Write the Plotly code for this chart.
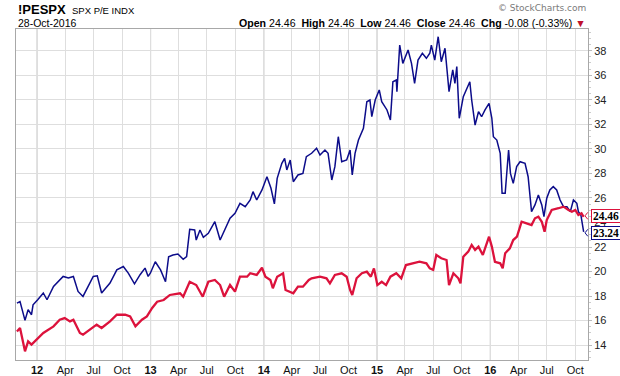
import plotly.graph_objects as go

# ---------------- data ----------------
pe_dates = [
    "2011-10-28", "2011-11-07", "2011-11-23", "2011-12-03", "2011-12-14", "2011-12-19",
    "2012-01-03", "2012-01-21", "2012-02-02", "2012-02-23", "2012-03-25", "2012-04-11",
    "2012-04-27", "2012-05-12", "2012-05-28", "2012-06-20", "2012-06-30", "2012-07-13",
    "2012-07-27", "2012-08-23", "2012-09-14", "2012-10-05", "2012-10-21", "2012-11-10",
    "2012-11-28", "2012-12-14", "2012-12-24", "2012-12-31", "2013-01-16", "2013-02-02",
    "2013-02-18", "2013-02-28", "2013-03-14", "2013-03-30", "2013-04-16", "2013-04-27",
    "2013-05-07", "2013-05-23", "2013-05-28", "2013-06-09", "2013-06-20", "2013-07-06",
    "2013-07-27", "2013-08-13", "2013-08-29", "2013-09-14", "2013-09-30", "2013-10-16",
    "2013-11-02", "2013-11-18", "2013-11-27", "2013-12-09", "2013-12-26", "2014-01-11",
    "2014-01-24", "2014-02-04", "2014-02-13", "2014-02-28", "2014-03-09", "2014-03-16",
    "2014-03-27", "2014-04-06", "2014-04-21", "2014-05-07", "2014-05-18", "2014-06-04",
    "2014-06-20", "2014-07-01", "2014-07-17", "2014-07-27", "2014-08-08", "2014-08-18",
    "2014-08-29", "2014-09-09", "2014-09-25", "2014-10-06", "2014-10-13", "2014-10-22",
    "2014-11-02", "2014-11-18", "2014-11-29", "2014-12-09", "2014-12-15", "2014-12-26",
    "2015-01-08", "2015-01-16", "2015-02-02", "2015-02-13", "2015-02-21", "2015-03-04",
    "2015-03-06", "2015-03-15", "2015-03-25", "2015-04-11", "2015-04-22", "2015-05-02",
    "2015-05-13", "2015-05-27", "2015-06-09", "2015-06-20", "2015-06-25", "2015-07-06",
    "2015-07-17", "2015-07-27", "2015-08-08", "2015-08-13", "2015-08-21", "2015-09-02",
    "2015-09-09", "2015-09-15", "2015-09-23", "2015-10-06", "2015-10-16", "2015-10-27",
    "2015-11-02", "2015-11-13", "2015-11-24", "2015-12-04", "2015-12-15", "2015-12-28",
    "2016-01-06", "2016-01-11", "2016-01-22", "2016-02-02", "2016-02-08", "2016-02-18",
    "2016-02-29", "2016-03-06", "2016-03-15", "2016-03-26", "2016-04-06", "2016-04-22",
    "2016-05-02", "2016-05-13", "2016-05-24", "2016-06-04", "2016-06-15", "2016-06-22",
    "2016-07-01", "2016-07-11", "2016-07-22", "2016-08-02", "2016-08-13", "2016-08-24",
    "2016-09-04", "2016-09-15", "2016-09-25", "2016-10-06", "2016-10-11", "2016-10-19",
    "2016-10-28",
]
pe_values = [
    17.43, 17.56, 16.02, 16.89, 16.48, 17.29,
    17.70, 18.25, 17.70, 18.78, 19.60, 19.47,
    19.60, 18.38, 17.97, 19.20, 19.60, 19.65,
    18.25, 19.06, 20.14, 20.41, 19.87, 19.00,
    19.74, 20.28, 19.60, 19.86, 20.80, 20.13,
    19.17, 21.21, 21.35, 21.43, 21.00, 21.21,
    23.44, 23.39, 22.57, 23.39, 22.79, 23.12,
    24.06, 22.57, 23.39, 24.34, 24.75, 25.56,
    25.29, 25.83, 26.51, 25.83, 26.65, 27.73,
    26.79, 25.51, 27.60, 28.82, 29.23, 28.28,
    29.09, 27.32, 27.87, 28.00, 29.36, 29.64,
    30.05, 29.50, 29.91, 29.64, 27.46, 28.55,
    30.99, 28.95, 29.09, 29.91, 27.87, 29.64,
    30.72, 31.68, 33.84, 33.98, 32.62, 33.98,
    34.80, 33.84, 33.17, 32.35, 35.47, 35.61,
    34.66, 38.46, 36.97, 38.06, 36.97, 35.34,
    37.24, 37.79, 37.38, 37.79, 38.46, 37.24,
    39.14, 37.10, 38.20, 36.70, 34.66, 36.43,
    35.34, 36.70, 32.49, 34.25, 34.80, 35.47,
    33.98, 31.94, 33.03, 32.62, 33.17, 33.71,
    32.49, 30.99, 30.72, 29.64, 26.38, 26.38,
    29.91, 28.00, 27.19, 28.55, 28.95, 28.82,
    27.73, 24.88, 25.43, 26.24, 25.43, 24.47,
    25.97, 26.65, 26.92, 26.65, 25.83, 25.29,
    25.29, 24.88, 25.83, 25.56, 24.88, 24.61,
    23.24,
]

fwd_dates = [
    "2011-10-28", "2011-11-07", "2011-11-23", "2011-12-03", "2011-12-14", "2012-01-03",
    "2012-01-21", "2012-02-23", "2012-03-14", "2012-03-30", "2012-04-16", "2012-04-27",
    "2012-05-18", "2012-05-28", "2012-06-20", "2012-07-11", "2012-07-27", "2012-08-23",
    "2012-09-14", "2012-10-11", "2012-10-27", "2012-11-13", "2012-12-04", "2012-12-20",
    "2013-01-06", "2013-01-22", "2013-02-12", "2013-03-04", "2013-04-06", "2013-04-16",
    "2013-05-07", "2013-05-28", "2013-06-18", "2013-07-06", "2013-07-27", "2013-08-13",
    "2013-08-26", "2013-09-14", "2013-09-30", "2013-10-16", "2013-11-08", "2013-11-18",
    "2013-12-09", "2013-12-26", "2014-01-06", "2014-01-22", "2014-01-30", "2014-02-13",
    "2014-03-04", "2014-03-12", "2014-04-06", "2014-04-21", "2014-05-07", "2014-05-26",
    "2014-06-04", "2014-07-01", "2014-07-22", "2014-08-02", "2014-08-18", "2014-09-09",
    "2014-09-25", "2014-10-06", "2014-10-13", "2014-10-27", "2014-11-13", "2014-11-29",
    "2014-12-12", "2014-12-22", "2015-01-02", "2015-01-16", "2015-01-30", "2015-02-13",
    "2015-03-04", "2015-03-20", "2015-04-04", "2015-04-27", "2015-05-18", "2015-06-09",
    "2015-06-20", "2015-07-01", "2015-07-11", "2015-07-27", "2015-08-13", "2015-08-21",
    "2015-09-04", "2015-09-20", "2015-09-27", "2015-10-06", "2015-10-22", "2015-11-02",
    "2015-11-13", "2015-11-24", "2015-12-08", "2015-12-28", "2016-01-06", "2016-01-16",
    "2016-02-02", "2016-02-10", "2016-02-18", "2016-03-04", "2016-03-15", "2016-03-27",
    "2016-04-11", "2016-04-27", "2016-05-13", "2016-05-24", "2016-06-04", "2016-06-15",
    "2016-06-24", "2016-07-01", "2016-07-17", "2016-08-08", "2016-08-24", "2016-09-09",
    "2016-09-20", "2016-10-01", "2016-10-11", "2016-10-21", "2016-10-28",
]
fwd_values = [
    15.12, 15.40, 13.50, 14.31, 14.04, 14.58,
    14.99, 15.53, 16.07, 16.21, 15.94, 16.07,
    14.99, 14.85, 15.26, 15.67, 15.40, 15.94,
    16.48, 16.48, 16.34, 15.53, 16.07, 16.34,
    17.03, 17.54, 17.68, 18.09, 18.23, 17.95,
    19.17, 18.90, 17.95, 19.17, 19.31, 18.90,
    17.95, 18.90, 18.36, 19.58, 19.58, 19.86,
    19.72, 20.31, 19.58, 19.31, 18.64, 19.58,
    19.86, 18.50, 18.23, 18.77, 18.77, 19.31,
    19.45, 19.58, 19.45, 19.04, 19.72, 19.86,
    19.58, 18.50, 18.09, 19.45, 19.86, 19.99,
    19.58, 20.26, 18.90, 19.17, 18.90, 19.58,
    19.86, 19.45, 20.53, 20.67, 20.80, 20.67,
    20.26, 20.13, 21.35, 21.08, 20.94, 18.90,
    19.86, 19.45, 19.04, 21.21, 21.62, 22.17,
    21.76, 22.03, 21.35, 22.84, 22.03, 20.80,
    20.67, 20.26, 21.49, 21.89, 22.57, 22.84,
    24.06, 23.93, 23.79, 24.34, 24.47, 24.06,
    23.25, 24.20, 25.02, 25.16, 25.29, 25.02,
    24.88, 25.02, 24.61, 24.75, 24.46,
]

x_tick_dates = [
    "2012-01-01", "2012-04-01", "2012-07-01", "2012-10-01",
    "2013-01-01", "2013-04-01", "2013-07-01", "2013-10-01",
    "2014-01-01", "2014-04-01", "2014-07-01", "2014-10-01",
    "2015-01-01", "2015-04-01", "2015-07-01", "2015-10-01",
    "2016-01-01", "2016-04-01", "2016-07-01", "2016-10-01",
]
x_tick_labels = [
    "<b>12</b>", "Apr", "Jul", "Oct",
    "<b>13</b>", "Apr", "Jul", "Oct",
    "<b>14</b>", "Apr", "Jul", "Oct",
    "<b>15</b>", "Apr", "Jul", "Oct",
    "<b>16</b>", "Apr", "Jul", "Oct",
]
year_starts = ["2012-01-01", "2013-01-01", "2014-01-01", "2015-01-01", "2016-01-01"]
y_tick_values = [14, 16, 18, 20, 22, 24, 26, 28, 30, 32, 34, 36, 38]

symbol = "!PESPX"
description = "SPX P/E INDX"
as_of = "28-Oct-2016"
last_open, last_high, last_low, last_close = "24.46", "24.46", "24.46", "24.46"
change, change_pct = "-0.08", "-0.33%"

BLUE = "#0c0c8a"
RED = "#dc123c"
FONT = "Liberation Sans, Arial, sans-serif"

fig = go.Figure()
fig.add_trace(go.Scatter(x=pe_dates, y=pe_values, mode="lines",
                         line=dict(color=BLUE, width=1.5), hoverinfo="skip"))
fig.add_trace(go.Scatter(x=fwd_dates, y=fwd_values, mode="lines",
                         line=dict(color=RED, width=2.3), hoverinfo="skip"))

# darker year separators
for ys in year_starts:
    fig.add_shape(type="line", xref="x", yref="paper", x0=ys, x1=ys, y0=0, y1=1,
                  line=dict(color="#b9b9b9", width=1), layer="below")

# last value tags (box just right of the plot, small pointer toward the line end)
for d, v, col, dy in [(fwd_dates[-1], fwd_values[-1], RED, 1),
                      (pe_dates[-1], pe_values[-1], BLUE, -1)]:
    fig.add_annotation(x=1, xref="paper", y=v, yref="y", text=f"<b>{v:.2f}</b>",
                       showarrow=False, xanchor="left", yanchor="middle", xshift=3,
                       yshift=dy, height=12, width=28,
                       bgcolor="white", bordercolor=col, borderwidth=1, borderpad=0,
                       font=dict(family="Liberation Serif, Times New Roman, serif",
                                 size=11.5, color="black"))
    fig.add_annotation(x=1, xref="paper", y=v, yref="y", text="",
                       showarrow=True, arrowhead=0, arrowwidth=1, arrowcolor=col,
                       ax=4, ay=-5, xshift=-3, yshift=dy, standoff=0)
    fig.add_annotation(x=1, xref="paper", y=v, yref="y", text="",
                       showarrow=True, arrowhead=0, arrowwidth=1, arrowcolor=col,
                       ax=4, ay=5, xshift=-3, yshift=dy, standoff=0)

# header texts
fig.add_annotation(xref="paper", yref="paper", x=0, y=1, xanchor="left", yanchor="middle",
                   yshift=20, text=f"<b>{symbol}</b>", showarrow=False,
                   font=dict(family=FONT, size=13, color="black"))
fig.add_annotation(xref="paper", yref="paper", x=0, y=1, xanchor="left", yanchor="middle",
                   xshift=54, yshift=19, text=description, showarrow=False,
                   font=dict(family=FONT, size=9.5, color="black"))
fig.add_annotation(xref="paper", yref="paper", x=0, y=1, xanchor="left", yanchor="middle",
                   yshift=6, text=as_of, showarrow=False,
                   font=dict(family=FONT, size=10.5, color="black"))
sp = "\u00a0"
header = (f"<b>Open</b> {last_open}{sp}{sp}<b>High</b> {last_high}{sp}{sp}"
          f"<b>Low</b> {last_low}{sp}{sp}<b>Close</b> {last_close}{sp}{sp}"
          f"<b>Chg</b> {change} ({change_pct})"
          f"<span style='color:#c0102c'>{sp}▼</span>")
fig.add_annotation(xref="paper", yref="paper", x=1, y=1, xanchor="right", yanchor="middle",
                   yshift=6, text=header, showarrow=False,
                   font=dict(family=FONT, size=10.6, color="black"))
fig.add_annotation(xref="paper", yref="paper", x=1, y=1, xanchor="right", yanchor="middle",
                   yshift=21, text="© StockCharts.com", showarrow=False,
                   font=dict(family="DejaVu Sans, sans-serif", size=9, color="#7a7a7a"))

fig.update_layout(
    width=620, height=376,
    margin=dict(l=16, r=32, t=29, b=16, autoexpand=False),
    paper_bgcolor="white", plot_bgcolor="white",
    showlegend=False,
    font=dict(family=FONT, size=11, color="#222"),
    xaxis=dict(
        type="date", range=["2011-10-25", "2016-11-11"], automargin=False,
        tickmode="array", tickvals=x_tick_dates, ticktext=x_tick_labels,
        showgrid=True, gridcolor="#dedede", gridwidth=1,
        showline=True, linecolor="#a8a8a8", linewidth=1, mirror=True,
        ticks="", tickfont=dict(size=11, color="#111"), zeroline=False,
    ),
    yaxis=dict(
        side="right", range=[12.79, 39.77], automargin=False,
        tickmode="array", tickvals=y_tick_values,
        showgrid=True, gridcolor="#dedede", gridwidth=1,
        showline=True, linecolor="#a8a8a8", linewidth=1, mirror=True,
        ticks="outside", ticklen=3, tickcolor="#bbbbbb",
        minor=dict(dtick=0.5, ticks="outside", ticklen=2, tickcolor="#cccccc", showgrid=False),
        tickfont=dict(size=11, color="#222"), zeroline=False,
    ),
)

fig.write_html("out.html", config={"displayModeBar": False},
               post_script="document.body.style.margin='0';document.body.style.padding='0';")
